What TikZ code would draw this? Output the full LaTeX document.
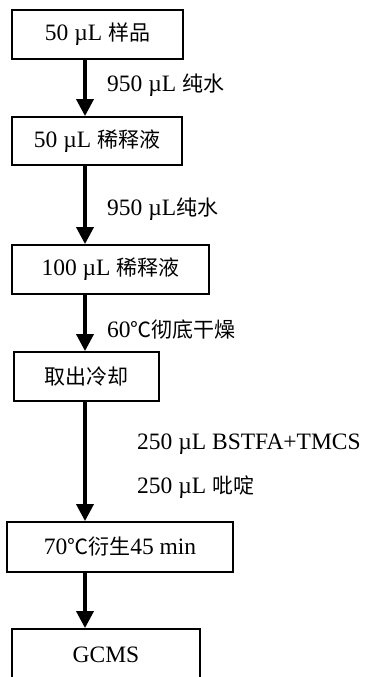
\documentclass[tikz,border=0pt]{standalone}
\usepackage{fontspec}
\setmainfont{Liberation Serif}
\newfontfamily\cjk{Noto Sans CJK SC}
\usetikzlibrary{arrows.meta}
\newcommand\zh[1]{{\cjk\fontsize{21}{21}\selectfont #1}}
\newcommand\degc{\makebox[21pt]{\zh{℃}}}
\begin{document}
\begin{tikzpicture}[x=1pt,y=-1pt,
  box/.style={draw,line width=1.8pt,inner sep=0pt,font=\fontsize{23.5}{24}\selectfont},
  arr/.style={line width=3.5pt,-{Triangle[width=17pt,length=17pt]}},
  lab/.style={anchor=base west,inner sep=0pt,font=\fontsize{23.5}{24}\selectfont}]
\useasboundingbox (0,0) rectangle (365,677);
\fill[white] (0,0) rectangle (365,677);
\coordinate (ax) at (85,0);
\node[box,minimum width=171pt,minimum height=49pt] (b1) at (97.5,34.5) {50 µL \zh{样品}};
\node[box,minimum width=170pt,minimum height=48pt] (b2) at (97,141) {50 µL \zh{稀释液}};
\node[box,minimum width=197pt,minimum height=49pt] (b3) at (110.5,269.5) {100 µL \zh{稀释液}};
\node[box,minimum width=145pt,minimum height=49pt] (b4) at (86.5,376.5) {\zh{取出冷却}};
\node[box,minimum width=226pt,minimum height=50pt] (b5) at (120,547) {70\degc\zh{衍生}45 min};
\node[box,minimum width=188pt,minimum height=52pt] (b6) at (106,655) {GCMS};
\draw[arr] (b1.south -| ax) -- (b2.north -| ax);
\draw[arr] (b2.south -| ax) -- (b3.north -| ax);
\draw[arr] (b3.south -| ax) -- (b4.north -| ax);
\draw[arr] (b4.south -| ax) -- (b5.north -| ax);
\draw[arr] (b5.south -| ax) -- (b6.north -| ax);
\node[lab] (l1) at (107,91) {950 µL \zh{纯水}};
\node[lab] (l2) at (107,215) {950 µL\zh{纯水}};
\node[lab] (l3) at (107,337) {60\degc\zh{彻底干燥}};
\node[lab] (l4) at (137,449) {250 µL BSTFA+TMCS};
\node[lab] (l5) at (137,493) {250 µL \zh{吡啶}};
\end{tikzpicture}
\end{document}
